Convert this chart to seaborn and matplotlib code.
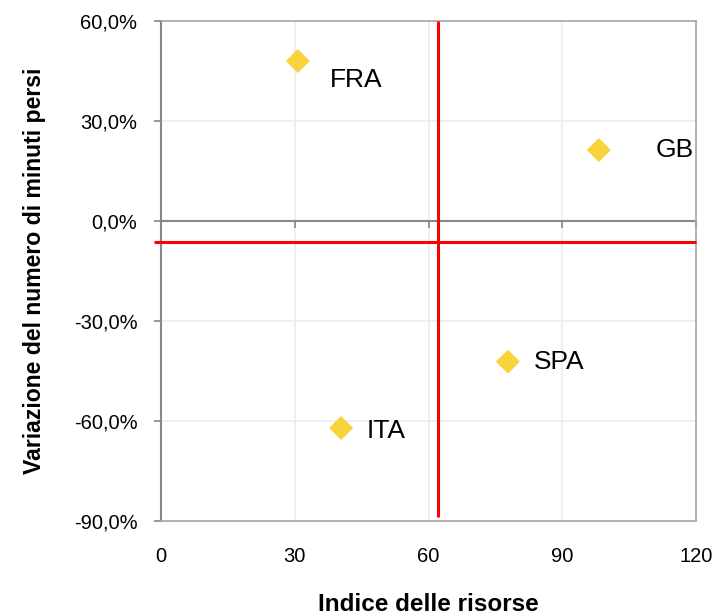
import numpy as np
import pandas as pd
import matplotlib
matplotlib.use("Agg")
import matplotlib.pyplot as plt
import seaborn as sns
from matplotlib.ticker import FuncFormatter

# ── Dati ─────────────────────────────────────────────────────────────────────
paesi = ["FRA", "GB", "SPA", "ITA"]
indice_risorse = [30.7, 98.2, 77.8, 40.4]
variazione_minuti = [48.0, 21.3, -42.2, -62.1]   # in %
# spostamento etichette (pixel)
offset_etichette = [(32, -19), (57, 0), (26, 0), (26, -3)]

media_x = 62.1      # linea rossa verticale
media_y = -6.3      # linea rossa orizzontale (%)

x_ticks = [0, 30, 60, 90, 120]
y_ticks = [-90, -60, -30, 0, 30, 60]

df = pd.DataFrame({"paese": paesi, "x": indice_risorse, "y": variazione_minuti})

sns.set_style("white")
plt.rcParams["font.family"] = ["Liberation Sans", "DejaVu Sans"]
plt.rcParams["text.color"] = "black"
plt.rcParams["axes.labelcolor"] = "black"
plt.rcParams["xtick.labelcolor"] = "black"
plt.rcParams["ytick.labelcolor"] = "black"

fig = plt.figure(figsize=(7.18, 6.16), dpi=100)
ax = fig.add_axes([0.2242, 0.1542, 0.7452, 0.8117])

ax.set_xlim(0, 120)
ax.set_ylim(-90, 60)

# griglia leggera
for v in x_ticks[1:-1]:
    ax.axvline(v, color="#ececec", lw=1.2, zorder=0)
for v in y_ticks[1:-1]:
    if v != 0:
        ax.axhline(v, color="#ececec", lw=1.2, zorder=0)

# linee rosse
ax.vlines(media_x, -88.8, 60, color="#ff0000", lw=2.2, zorder=3, clip_on=False)
ax.hlines(media_y, -1.5, 120, color="#ff0000", lw=2.2, zorder=3, clip_on=False)

sns.scatterplot(data=df, x="x", y="y", marker="D", s=150, color="#f8d33c",
                edgecolor="none", ax=ax, zorder=4, legend=False)

for p, xv, yv, (dx, dy) in zip(paesi, indice_risorse, variazione_minuti, offset_etichette):
    ax.annotate(p, (xv, yv), xytext=(dx, dy), textcoords="offset pixels",
                ha="left", va="center", fontsize=19, color="black")

# asse x a quota zero (solo tacche)
sec = ax.secondary_xaxis(0, transform=ax.transData)
sec.set_xticks(x_ticks)
sec.tick_params(axis="x", direction="out", length=5, width=1.2, colors="#878787",
                labelbottom=False)
sec.spines["bottom"].set_color("#878787")
sec.spines["bottom"].set_linewidth(1.5)

# bordi
for s in ["top", "right", "bottom"]:
    ax.spines[s].set_color("#a6a6a6")
    ax.spines[s].set_linewidth(1.2)
ax.spines["left"].set_color("#878787")
ax.spines["left"].set_linewidth(1.5)

ax.set_xticks(x_ticks)
ax.set_yticks(y_ticks)
ax.yaxis.set_major_formatter(FuncFormatter(lambda v, _: f"{v:.1f}%".replace(".", ",")))
ax.tick_params(axis="x", length=0, pad=19, labelsize=14.5)
ax.tick_params(axis="y", direction="out", length=5, width=1.2, color="#878787",
               pad=12, labelsize=14.5, left=True)

ax.set_xlabel("Indice delle risorse", fontsize=17.5, fontweight="bold", labelpad=19)
ax.set_ylabel("Variazione del numero di minuti persi", fontsize=16.6,
              fontweight="bold", labelpad=20)

fig.savefig("out.png", dpi=100)
